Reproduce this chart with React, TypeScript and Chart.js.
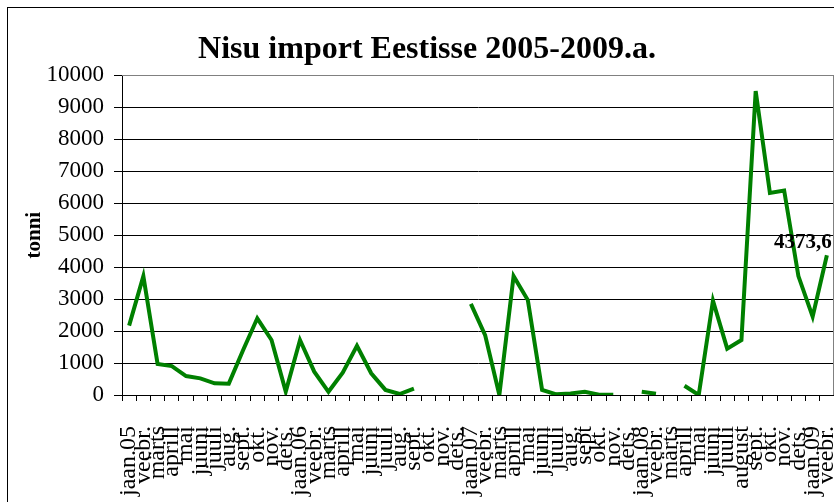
import React, { useEffect, useRef } from "react";
import { Chart, registerables } from "chart.js";

Chart.register(...registerables);

const categories: string[] = [
  "jaan.05", "veebr.", "märts", "aprill", "mai", "juuni", "juuli", "aug.", "sept.", "okt.", "nov.", "dets.",
  "jaan.06", "veebr.", "märts", "aprill", "mai", "juuni", "juuli", "aug.", "sept.", "okt.", "nov.", "dets.",
  "jaan.07", "veebr.", "märts", "aprill", "mai", "juuni", "juuli", "aug.", "sept", "okt.", "nov.", "dets.",
  "jaan.08", "veebr.", "märts", "aprill", "mai", "juuni", "juuli", "august", "sept.", "okt.", "nov.", "dets.",
  "jaan.09", "veebr.",
];

const values2005: (number | null)[] = [2170, 3720, 970, 906, 594, 520, 365, 355, 1400, 2400, 1720, 105];
const values2006: (number | null)[] = [1720, 730, 100, 700, 1540, 680, 160, 30, 200, null, null, null];
const values2007: (number | null)[] = [2850, 1875, 0, 3720, 2970, 160, 20, 50, 100, 10, 5, null];
const values2008: (number | null)[] = [100, 40, null, 290, 0, 2950, 1450, 1720, 9510, 6320, 6400, 3720];
const values2009: (number | null)[] = [2450, 4373.6];

const seriesValues: (number | null)[] = [...values2005, ...values2006, ...values2007, ...values2008, ...values2009];

const yTicks: number[] = [0, 1000, 2000, 3000, 4000, 5000, 6000, 7000, 8000, 9000, 10000];

const labelledIndex = seriesValues.length - 1;

const SERIF = "'Liberation Serif', 'Times New Roman', serif";

export default function App() {
  const canvasRef = useRef<HTMLCanvasElement | null>(null);

  useEffect(() => {
    const canvas = canvasRef.current;
    if (!canvas) return;

    const framePlugin = {
      id: "frame",
      afterDraw(chart: any) {
        const { ctx, chartArea } = chart;
        ctx.save();
        ctx.strokeStyle = "#808080";
        ctx.lineWidth = 1;
        ctx.beginPath();
        ctx.moveTo(chartArea.left, Math.round(chartArea.top) + 0.5);
        ctx.lineTo(Math.round(chartArea.right) - 0.5, Math.round(chartArea.top) + 0.5);
        ctx.lineTo(Math.round(chartArea.right) - 0.5, chartArea.bottom);
        ctx.stroke();
        ctx.restore();
      },
    };

    const dataLabelPlugin = {
      id: "dataLabel",
      afterDatasetsDraw(chart: any) {
        const meta = chart.getDatasetMeta(0);
        const pt = meta.data[labelledIndex];
        const v = seriesValues[labelledIndex];
        if (!pt || v == null) return;
        const ctx = chart.ctx;
        ctx.save();
        ctx.font = `bold 21px ${SERIF}`;
        ctx.fillStyle = "#000";
        ctx.textAlign = "center";
        ctx.textBaseline = "middle";
        ctx.fillText(String(v).replace(".", ","), pt.x - 24, pt.y - 13);
        ctx.restore();
      },
    };

    const chart = new Chart(canvas, {
      type: "line",
      data: {
        labels: categories,
        datasets: [
          {
            data: seriesValues,
            borderColor: "#008000",
            backgroundColor: "#008000",
            borderWidth: 4,
            pointRadius: 0,
            pointHoverRadius: 0,
            tension: 0,
            spanGaps: false,
            fill: false,
          },
        ],
      },
      options: {
        animation: false,
        responsive: true,
        maintainAspectRatio: false,
        layout: { padding: { left: 12, right: 0, top: 0, bottom: 0 } },
        plugins: {
          legend: { display: false },
          tooltip: { enabled: false },
          title: {
            display: true,
            text: "Nisu import Eestisse 2005-2009.a.",
            color: "#000",
            font: { family: SERIF, size: 32, weight: "bold" },
            padding: { top: 23, bottom: 6 },
          },
        },
        scales: {
          x: {
            type: "category",
            offset: true,
            afterFit(scale: any) {
              scale.paddingRight = 0;
              scale.height = 107;
            },
            grid: {
              offset: true,
              drawOnChartArea: false,
              drawTicks: true,
              tickLength: 6,
              color: "#000",
            },
            border: { color: "#000", width: 1 },
            ticks: {
              autoSkip: false,
              maxRotation: 90,
              minRotation: 90,
              padding: 25,
              color: "#000",
              font: { family: SERIF, size: 24 },
            },
          },
          y: {
            min: 0,
            max: 10000,
            afterFit(scale: any) {
              scale.width = 102;
            },
            afterBuildTicks(scale: any) {
              scale.ticks = yTicks.map((v) => ({ value: v }));
            },
            grid: {
              color: (c: any) => (c.tick && c.tick.value === 10000 ? "#808080" : "#000"),
              tickColor: "#000",
              tickLength: 8,
              lineWidth: 1,
            },
            border: { color: "#000", width: 1 },
            ticks: {
              padding: 10,
              color: "#000",
              font: { family: SERIF, size: 23 },
              callback: (v: any) => String(v),
            },
            title: {
              display: true,
              text: "tonni",
              color: "#000",
              font: { family: SERIF, size: 21, weight: "bold" },
              padding: { top: 2, bottom: 2 },
            },
          },
        },
      },
      plugins: [framePlugin, dataLabelPlugin],
    });

    return () => {
      chart.destroy();
    };
  }, []);

  return (
    <div
      style={{
        position: "fixed",
        left: 0,
        top: 0,
        width: 834,
        height: 502,
        overflow: "hidden",
        background: "#fff",
      }}
    >
      <div
        style={{
          position: "absolute",
          left: 7,
          top: 7,
          width: 900,
          height: 600,
          border: "1px solid #000",
          boxSizing: "border-box",
        }}
      />
      <div style={{ position: "absolute", left: 8, top: 8, width: 826, height: 494 }}>
        <canvas ref={canvasRef} />
      </div>
    </div>
  );
}
